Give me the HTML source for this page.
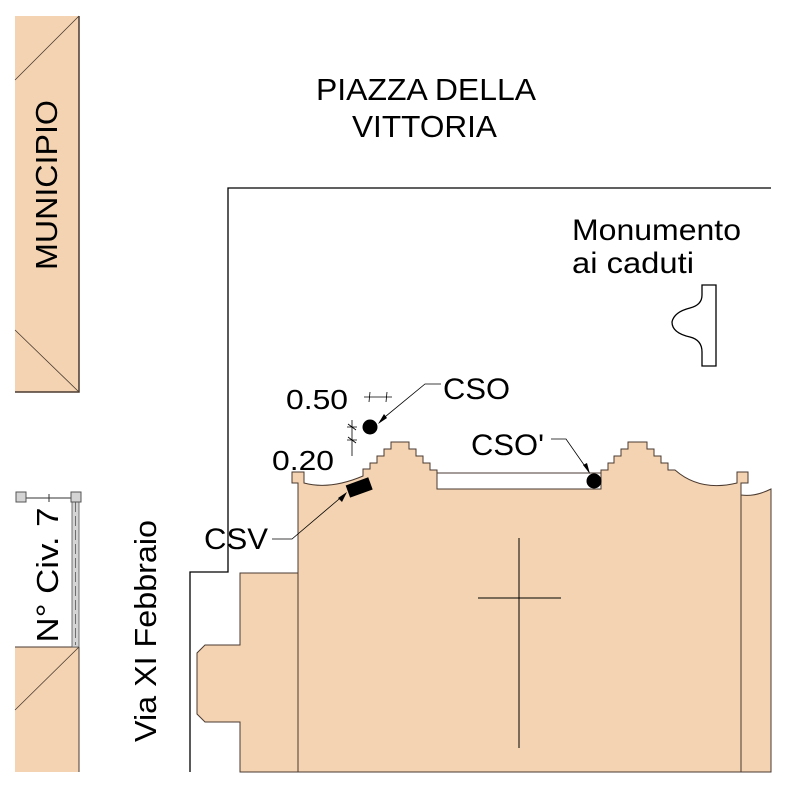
<!DOCTYPE html>
<html><head><meta charset="utf-8"><style>html,body{margin:0;padding:0;background:#fff}svg{display:block}text{font-family:"Liberation Sans",sans-serif;fill:#000}</style></head><body>
<svg width="788" height="788" viewBox="0 0 788 788" xmlns="http://www.w3.org/2000/svg">
<rect width="788" height="788" fill="#fff"/>
<rect x="15" y="16" width="64" height="376" fill="#f3d3b1"/>
<path d="M79 16V392H15" fill="none" stroke="#4a3a30" stroke-width="1.5"/>
<path d="M15 80L79 16M15 330L79 392" stroke="#4a3a30" stroke-width="0.8"/>
<text transform="translate(57,185) rotate(-90)" font-size="31" text-anchor="middle" textLength="170" lengthAdjust="spacingAndGlyphs">MUNICIPIO</text>
<rect x="15" y="647" width="64" height="125" fill="#f3d3b1"/>
<path d="M79 647V772M15 647H79" stroke="#4a3a30" stroke-width="1"/>
<path d="M79 647L15 710" stroke="#4a3a30" stroke-width="0.8"/>
<rect x="72" y="498" width="7" height="149" fill="#d4d4d4" stroke="#555" stroke-width="0.8"/>
<line x1="75.5" y1="502" x2="75.5" y2="645" stroke="#555" stroke-width="0.8" stroke-dasharray="10,4"/>
<line x1="21" y1="498" x2="76" y2="498" stroke="#333" stroke-width="1"/>
<line x1="49" y1="494" x2="49" y2="502" stroke="#333" stroke-width="1"/>
<rect x="16" y="492" width="10" height="10" fill="#d4d4d4" stroke="#555"/>
<rect x="71" y="492" width="10" height="10" fill="#d4d4d4" stroke="#555"/>
<text transform="translate(58,575) rotate(-90)" font-size="31" text-anchor="middle" textLength="135" lengthAdjust="spacingAndGlyphs">N° Civ. 7</text>
<text transform="translate(156,631) rotate(-90)" font-size="31" text-anchor="middle" textLength="222" lengthAdjust="spacingAndGlyphs">Via XI Febbraio</text>
<path d="M190 772V572H228V188H771" fill="none" stroke="#000" stroke-width="1.3"/>
<path d="M240 573H298V772H240V722H205L197 714V653L205 645H240Z" fill="#f3d3b1" stroke="#4a3a30" stroke-width="1"/>
<path d="M298 772V483H292V472H304V483Q330 490 363 476V469H370V463H377V456H384V449H391V442H409V449H416V456H423V463H430V470H437V473H601V470H608V463H614V456H621V449H628V442H647V449H654V456H661V463H668V470H675Q700 492 737 483V472H748V483H741V495Q755 497 771 489V772Z" fill="#f3d3b1" stroke="#4a3a30" stroke-width="1"/>
<line x1="741" y1="483" x2="741" y2="772" stroke="#4a3a30" stroke-width="1"/>
<rect x="437" y="473" width="164" height="16" fill="#fff" stroke="#4a3a30" stroke-width="1"/>
<path d="M519 538V748M478 598H561" stroke="#000" stroke-width="1"/>
<path d="M702 285H716V366H702V352Q702 340 690 337Q672 333 672 322Q674 312 690 308Q702 305 702 295Z" fill="#fff" stroke="#000" stroke-width="1.3"/>
<circle cx="370" cy="427" r="7.5" fill="#000"/>
<circle cx="594" cy="481" r="7.5" fill="#000"/>
<rect x="347" y="481" width="24" height="13" fill="#000" transform="rotate(-20 359 487)"/>
<path d="M441 384H425L380 421" fill="none" stroke="#000" stroke-width="0.8"/>
<path d="M378 424L384 414L387 418Z" fill="#000"/>
<path d="M551 439H566L589 472" fill="none" stroke="#000" stroke-width="0.8"/>
<path d="M590 474L583 465L587 463Z" fill="#000"/>
<path d="M272 539H292L345 494" fill="none" stroke="#000" stroke-width="0.8"/>
<path d="M347 492L342 502L338 498Z" fill="#000"/>
<path d="M364 397H392M370 392L369 402M387 392L386 402" stroke="#000" stroke-width="0.8"/>
<path d="M352 420V456M347 427H357M347 440H357M348 424L356 430M348 437L356 443" stroke="#000" stroke-width="0.8"/>
<text x="316" y="100" font-size="31" textLength="220" lengthAdjust="spacingAndGlyphs">PIAZZA DELLA</text>
<text x="352" y="137" font-size="31" textLength="145" lengthAdjust="spacingAndGlyphs">VITTORIA</text>
<text x="572" y="240" font-size="30" textLength="169" lengthAdjust="spacingAndGlyphs">Monumento</text>
<text x="572" y="273" font-size="30" textLength="122" lengthAdjust="spacingAndGlyphs">ai caduti</text>
<text x="443" y="399" font-size="30" textLength="67" lengthAdjust="spacingAndGlyphs">CSO</text>
<text x="471" y="455" font-size="30" textLength="73" lengthAdjust="spacingAndGlyphs">CSO'</text>
<text x="204" y="549" font-size="30" textLength="64" lengthAdjust="spacingAndGlyphs">CSV</text>
<text x="286" y="409" font-size="28" textLength="62" lengthAdjust="spacingAndGlyphs">0.50</text>
<text x="272" y="470" font-size="28" textLength="62" lengthAdjust="spacingAndGlyphs">0.20</text>
</svg>
</body></html>
